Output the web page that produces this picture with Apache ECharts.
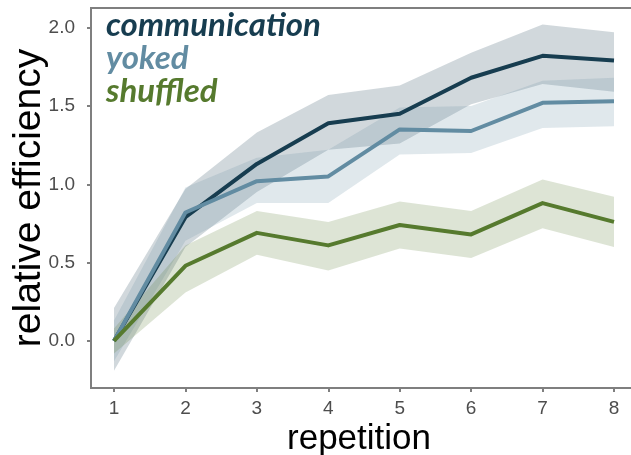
<!DOCTYPE html>
<html>
<head>
<meta charset="utf-8">
<script src="https://cdn.jsdelivr.net/npm/echarts@6/dist/echarts.min.js"></script>
<style>
html,body{margin:0;padding:0;background:#fff;}
#chart{width:631px;height:455px;}
</style>
</head>
<body>
<div id="chart"></div>
<script>
const repetitions = [1, 2, 3, 4, 5, 6, 7, 8];
const yTicks = [0, 0.5, 1, 1.5, 2];
const groupNames = ['communication', 'yoked', 'shuffled'];

const commMean  = [0, 0.79, 1.13, 1.39, 1.45, 1.68, 1.82, 1.79];
const commLower = [-0.19, 0.60, 0.95, 1.22, 1.26, 1.51, 1.64, 1.59];
const commUpper = [0.21, 0.97, 1.33, 1.57, 1.63, 1.84, 2.02, 1.97];

const yokedMean  = [0, 0.82, 1.02, 1.05, 1.35, 1.34, 1.52, 1.53];
const yokedLower = [-0.13, 0.64, 0.88, 0.88, 1.19, 1.20, 1.36, 1.37];
const yokedUpper = [0.13, 0.98, 1.17, 1.22, 1.49, 1.50, 1.66, 1.68];

const shufMean  = [0, 0.48, 0.69, 0.61, 0.74, 0.68, 0.88, 0.76];
const shufLower = [-0.08, 0.31, 0.55, 0.45, 0.59, 0.53, 0.72, 0.60];
const shufUpper = [0.08, 0.61, 0.83, 0.76, 0.89, 0.83, 1.03, 0.92];

const colors = ['#173d50', '#628ca2', '#567a2e'];
const groups = [
  {mean: commMean, lower: commLower, upper: commUpper},
  {mean: yokedMean, lower: yokedLower, upper: yokedUpper},
  {mean: shufMean, lower: shufLower, upper: shufUpper}
];

function bandSeries(g, color) {
  return {
    type: 'custom',
    clip: true,
    silent: true,
    z: 1,
    data: repetitions.map((x, i) => [x, g.lower[i], g.upper[i]]),
    renderItem: function (params, api) {
      if (params.dataIndex !== 0) return null;
      const pts = [];
      for (let i = 0; i < repetitions.length; i++) pts.push(api.coord([repetitions[i], g.upper[i]]));
      for (let i = repetitions.length - 1; i >= 0; i--) pts.push(api.coord([repetitions[i], g.lower[i]]));
      return {type: 'polygon', shape: {points: pts}, style: {fill: color, opacity: 0.2}};
    }
  };
}

function lineSeries(g, color, name) {
  return {
    type: 'line', name: name, z: 3,
    data: repetitions.map((x, i) => [x, g.mean[i]]),
    showSymbol: false, symbol: 'none',
    lineStyle: {color: color, width: 4, join: 'round'},
    animation: false
  };
}

const series = [];
groups.forEach((g, i) => series.push(bandSeries(g, colors[i])));
groups.forEach((g, i) => series.push(lineSeries(g, colors[i], groupNames[i])));

const chart = echarts.init(document.getElementById('chart'), null, {renderer: 'canvas'});
// avoid the Lato "ti" ligature in the legend words
try {
  const cv = document.querySelector('#chart canvas');
  if (cv) {
    const ctx = cv.getContext('2d');
    if ('textRendering' in ctx) ctx.textRendering = 'optimizeSpeed';
    if ('letterSpacing' in ctx) ctx.letterSpacing = '0.1px';
  }
} catch (e) {}

chart.setOption({
  animation: false,
  grid: {left: 91, top: 8, width: 548, height: 380, show: true, borderColor: '#7f7f7f', borderWidth: 2,
         containLabel: false, outerBoundsMode: 'none'},
  xAxis: {
    type: 'value', min: 0.678, max: 8.35,
    name: 'repetition', nameLocation: 'middle', nameGap: 34, nameMoveOverlap: false,
    nameTextStyle: {fontFamily: 'Liberation Sans', fontSize: 35, color: '#000', padding: [0, 12, 0, 0]},
    axisLine: {show: true, onZero: false, lineStyle: {color: '#7f7f7f', width: 2}},
    splitLine: {show: false},
    axisTick: {show: true, length: 4, lineStyle: {color: '#7f7f7f', width: 2}, customValues: repetitions},
    axisLabel: {customValues: repetitions, margin: 11, fontFamily: 'Liberation Sans', fontSize: 19, color: '#4d4d4d', formatter: v => String(v)}
  },
  yAxis: {
    type: 'value', min: -0.30, max: 2.125,
    name: 'relative efficiency', nameLocation: 'middle', nameGap: 42, nameMoveOverlap: false,
    nameTextStyle: {fontFamily: 'Liberation Sans', fontSize: 39, color: '#000'},
    axisLine: {show: true, onZero: false, lineStyle: {color: '#7f7f7f', width: 2}},
    splitLine: {show: false},
    axisTick: {show: true, length: 4, lineStyle: {color: '#7f7f7f', width: 2}, customValues: yTicks},
    axisLabel: {customValues: yTicks, margin: 16, fontFamily: 'Liberation Sans', fontSize: 19, color: '#4d4d4d', formatter: v => v.toFixed(1)}
  },
  graphic: groupNames.map((n, i) => ({
    type: 'text', left: 106, top: 9 + i * 33, z: 10,
    style: {text: n, fill: colors[i], font: 'italic bold 33px Lato'}
  })),
  series: series
});
</script>
</body>
</html>
